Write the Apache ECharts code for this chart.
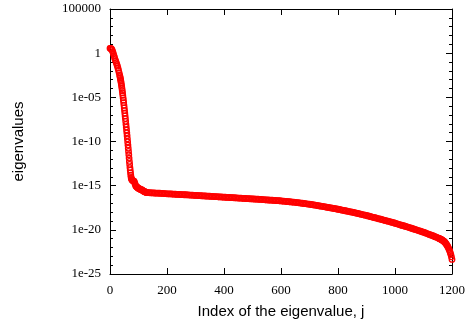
<!DOCTYPE html>
<html>
<head>
<meta charset="utf-8">
<script src="https://cdn.jsdelivr.net/npm/echarts@6/dist/echarts.min.js"></script>
<style>
  html, body { margin: 0; padding: 0; background: #fff; }
  #chart { width: 468px; height: 328px; }
</style>
</head>
<body>
<div id="chart"></div>
<script>
const headPts = [
  [0, 0.55], [2, 0.54], [4, 0.50], [6, 0.42], [8, 0.30], [10, 0.12], [12, -0.08], [14, -0.30], [16, -0.52],
  [18, -0.72], [20, -0.90], [22, -1.08], [24, -1.27], [26, -1.47], [28, -1.70], [30, -1.95], [32, -2.22], [34, -2.50]
];

const dropPts = [
  [35, -2.65], [36, -2.80], [37, -2.97], [38, -3.15], [39, -3.35], [40, -3.55], [41, -3.77], [42, -4.00],
  [43, -4.25], [44, -4.50], [45, -4.77], [46, -5.05], [47, -5.32], [48, -5.60], [49, -5.90], [50, -6.20],
  [51, -6.50], [52, -6.80], [53, -7.10], [54, -7.40], [55, -7.72], [56, -8.05], [57, -8.37], [58, -8.70],
  [59, -9.02], [60, -9.35], [61, -9.70], [62, -10.05], [63, -10.40], [64, -10.75], [65, -11.12], [66, -11.50],
  [67, -11.88], [68, -12.25], [69, -12.60], [70, -12.95], [71, -13.25], [72, -13.55], [73, -13.82], [74, -14.05],
  [75, -14.20], [76, -14.30]
];

const shoulderPts = [
  [78, -14.40], [80, -14.45], [82, -14.45], [84, -14.50], [86, -14.60], [88, -14.80], [90, -15.00], [92, -15.10],
  [94, -15.15], [96, -15.20], [98, -15.25], [100, -15.30], [102, -15.34], [104, -15.38], [106, -15.41], [108, -15.44],
  [110, -15.46], [112, -15.49], [114, -15.53], [116, -15.58], [118, -15.62], [120, -15.66], [122, -15.69], [124, -15.72],
  [126, -15.74], [128, -15.76]
];

const plateauPts = [
  [130, -15.78], [135, -15.79], [140, -15.80], [145, -15.81], [150, -15.82], [155, -15.83], [160, -15.84], [165, -15.85],
  [170, -15.85], [175, -15.86], [180, -15.87], [185, -15.88], [190, -15.89], [195, -15.91], [200, -15.92], [205, -15.92],
  [210, -15.93], [215, -15.94], [220, -15.95], [225, -15.96], [230, -15.97], [235, -15.98], [240, -15.99], [245, -16.00],
  [250, -16.01], [255, -16.02], [260, -16.03], [265, -16.03], [270, -16.04], [275, -16.05], [280, -16.06], [285, -16.07],
  [290, -16.08], [295, -16.09], [300, -16.10], [305, -16.11], [310, -16.12], [315, -16.13], [320, -16.14], [325, -16.15],
  [330, -16.16], [335, -16.17], [340, -16.18], [345, -16.19], [350, -16.20], [355, -16.21], [360, -16.22], [365, -16.23],
  [370, -16.24], [375, -16.25], [380, -16.26], [385, -16.27], [390, -16.28], [395, -16.29], [400, -16.30], [405, -16.31],
  [410, -16.32], [415, -16.33], [420, -16.34], [425, -16.35], [430, -16.36], [435, -16.37], [440, -16.38], [445, -16.39],
  [450, -16.40], [455, -16.41], [460, -16.42], [465, -16.43], [470, -16.44], [475, -16.45], [480, -16.46], [485, -16.47],
  [490, -16.48], [495, -16.49], [500, -16.50], [505, -16.51], [510, -16.52], [515, -16.53], [520, -16.54], [525, -16.55],
  [530, -16.56], [535, -16.57], [540, -16.59], [545, -16.60], [550, -16.61], [555, -16.62], [560, -16.63], [565, -16.64],
  [570, -16.65], [575, -16.66], [580, -16.68], [585, -16.69], [590, -16.70], [595, -16.71], [600, -16.73], [605, -16.74],
  [610, -16.76], [615, -16.77], [620, -16.79], [625, -16.81], [630, -16.82], [635, -16.84], [640, -16.86], [645, -16.87],
  [650, -16.89], [655, -16.91], [660, -16.93], [665, -16.95], [670, -16.97], [675, -16.99], [680, -17.01], [685, -17.04],
  [690, -17.06], [695, -17.08], [700, -17.10], [705, -17.13], [710, -17.15], [715, -17.18], [720, -17.21], [725, -17.23],
  [730, -17.26], [735, -17.29], [740, -17.32], [745, -17.34], [750, -17.37], [755, -17.40], [760, -17.43], [765, -17.46],
  [770, -17.49], [775, -17.52], [780, -17.55], [785, -17.58], [790, -17.61], [795, -17.64], [800, -17.67], [805, -17.70],
  [810, -17.74], [815, -17.77], [820, -17.80], [825, -17.84], [830, -17.87], [835, -17.90], [840, -17.93], [845, -17.97],
  [850, -18.00], [855, -18.04], [860, -18.08], [865, -18.11], [870, -18.15], [875, -18.19], [880, -18.23], [885, -18.27],
  [890, -18.30], [895, -18.34], [900, -18.38], [905, -18.42], [910, -18.46], [915, -18.51], [920, -18.55], [925, -18.59],
  [930, -18.63], [935, -18.67], [940, -18.72], [945, -18.76], [950, -18.80], [955, -18.84], [960, -18.89], [965, -18.93],
  [970, -18.98], [975, -19.02], [980, -19.07], [985, -19.11], [990, -19.16], [995, -19.20], [1000, -19.25], [1005, -19.30],
  [1010, -19.35], [1015, -19.40], [1020, -19.45], [1025, -19.50], [1030, -19.54], [1035, -19.59], [1040, -19.64], [1045, -19.69],
  [1050, -19.74], [1055, -19.79], [1060, -19.84], [1065, -19.90], [1070, -19.95], [1075, -20.00], [1080, -20.06], [1085, -20.11],
  [1090, -20.16], [1095, -20.22], [1100, -20.27], [1105, -20.33], [1110, -20.39], [1115, -20.45], [1120, -20.52], [1125, -20.58],
  [1130, -20.64], [1135, -20.70], [1140, -20.77], [1145, -20.83], [1150, -20.90]
];

const tailPts = [
  [1152, -20.93], [1154, -20.96], [1156, -20.99], [1158, -21.02], [1160, -21.06], [1162, -21.09], [1164, -21.13], [1166, -21.17],
  [1168, -21.22], [1170, -21.27], [1172, -21.32], [1174, -21.38], [1176, -21.45], [1178, -21.53], [1180, -21.62], [1182, -21.72],
  [1184, -21.83], [1186, -21.95], [1188, -22.09], [1190, -22.24], [1192, -22.41], [1194, -22.59], [1196, -22.80], [1198, -23.05],
  [1200, -23.35]
];

// y ticks are powers of ten (exponent -> printed label)
const yTickExp = [5, 0, -5, -10, -15, -20, -25];
const yTickLabels = ['100000', '1', '1e-05', '1e-10', '1e-15', '1e-20', '1e-25'];

const chart = echarts.init(document.getElementById('chart'), null, { renderer: 'canvas' });

const serif = '"Liberation Serif", "DejaVu Serif", serif';
const sans = '"Liberation Sans", Arial, sans-serif';
const frame = { show: true, onZero: false, lineStyle: { color: '#000', width: 1 } };

const xBase = {
  type: 'value',
  min: 0,
  max: 1200,
  interval: 200,
  axisLine: frame,
  axisTick: { show: true, inside: true, length: 6, lineStyle: { color: '#000' } },
  splitLine: { show: false },
};

const yBase = {
  type: 'value',
  min: -25,
  max: 5,
  interval: 5,
  axisLine: frame,
  axisTick: { show: true, inside: true, length: 6, lineStyle: { color: '#000' } },
  minorTick: { show: true, splitNumber: 5, length: 3, lineStyle: { color: '#000' } },
  splitLine: { show: false },
};

const allPts = [...headPts, ...dropPts, ...shoulderPts, ...plateauPts, ...tailPts];

const option = {
  animation: false,
  backgroundColor: '#fff',
  grid: { left: 110, right: 14, top: 9, bottom: 54 },
  xAxis: [
    {
      ...xBase,
      position: 'bottom',
      name: 'Index of the eigenvalue, j',
      nameLocation: 'middle',
      nameGap: 30,
      nameTextStyle: { fontFamily: sans, fontSize: 15, color: '#000' },
      axisLabel: { fontFamily: serif, fontSize: 13, color: '#000', margin: 10, formatter: (v) => String(v) },
    },
    { ...xBase, position: 'top', axisLabel: { show: false } },
  ],
  yAxis: [
    {
      ...yBase,
      position: 'left',
      name: 'eigenvalues',
      nameLocation: 'middle',
      nameGap: 84,
      nameTextStyle: { fontFamily: sans, fontSize: 15, color: '#000' },
      axisLabel: {
        fontFamily: serif,
        fontSize: 13,
        color: '#000',
        margin: 9,
        formatter: (v) => yTickLabels[yTickExp.indexOf(v)],
      },
    },
    { ...yBase, position: 'right', axisLabel: { show: false } },
  ],
  series: [
    {
      type: 'scatter',
      xAxisIndex: 0,
      yAxisIndex: 0,
      symbol: 'circle',
      symbolSize: 5.5,
      itemStyle: { color: 'rgba(0,0,0,0)', borderColor: '#ff0000', borderWidth: 1.3, opacity: 1 },
      data: allPts,
    },
  ],
};

chart.setOption(option);
</script>
</body>
</html>
